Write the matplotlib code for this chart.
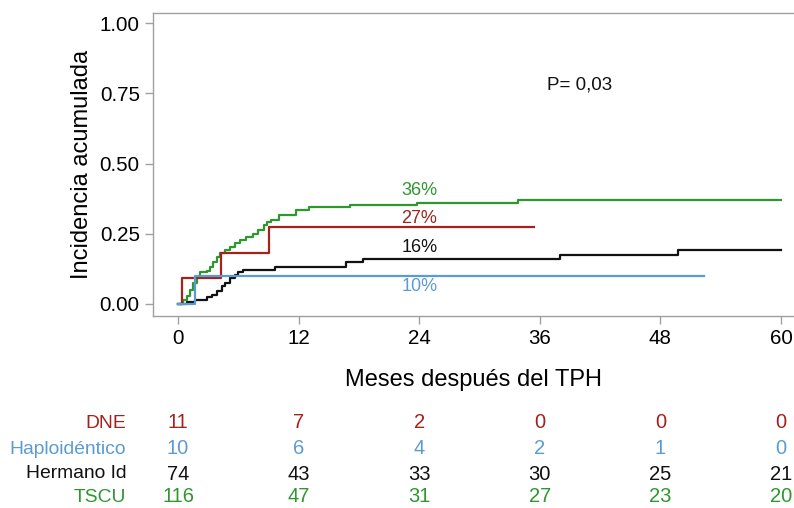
import matplotlib
matplotlib.use("Agg")
import matplotlib.pyplot as plt
import matplotlib.transforms as mtransforms

plt.rcParams['font.family'] = ['Liberation Sans', 'DejaVu Sans']

# cumulative incidence curves (months, value)
tscu_t = [0, 0.5, 0.85, 1.2, 1.5, 1.85, 2.2, 2.85, 3.2, 3.5, 3.85, 4.2, 4.7, 5.2, 5.7,
          6.2, 6.8, 7.5, 8.0, 8.5, 8.8, 9.2, 10.0, 11.7, 13.0, 17.1, 23.8, 33.8, 60]
tscu_v = [0, 0.013, 0.03, 0.05, 0.074, 0.095, 0.115, 0.118, 0.133, 0.15, 0.168, 0.18, 0.192,
          0.204, 0.216, 0.228, 0.24, 0.25, 0.263, 0.28, 0.293, 0.30, 0.317, 0.335, 0.344,
          0.352, 0.36, 0.37, 0.37]
dne_t = [0, 0.37, 4.25, 9.05, 35.4]
dne_v = [0, 0.091, 0.182, 0.273, 0.273]
haplo_t = [0, 1.7, 52.3]
haplo_v = [0, 0.10, 0.10]
herm_t = [0, 0.86, 1.7, 2.85, 3.35, 3.85, 4.35, 4.7, 5.2, 5.7, 6.0, 6.5, 9.65, 16.7, 18.4,
          38.0, 49.8, 60]
herm_v = [0, 0.008, 0.014, 0.024, 0.032, 0.047, 0.064, 0.076, 0.091, 0.103, 0.115, 0.121,
          0.133, 0.148, 0.16, 0.174, 0.192, 0.192]

# numbers at risk
risk_times = [0, 12, 24, 36, 48, 60]
groups = ["DNE", "Haploidéntico", "Hermano Id", "TSCU"]
risk_dne = [11, 7, 2, 0, 0, 0]
risk_haplo = [10, 6, 4, 2, 1, 0]
risk_herm = [74, 43, 33, 30, 25, 21]
risk_tscu = [116, 47, 31, 27, 23, 20]

red = "#a3221c"
blue = "#5b9bd5"
black = "#111111"
green = "#2e972e"
grey = "#a0a0a0"

fig = plt.figure(figsize=(7.94, 5.08), dpi=100)
ax = fig.add_axes([153 / 794, 1 - 316 / 508, 641 / 794, 303 / 508])

ax.plot(tscu_t, tscu_v, drawstyle="steps-post", color=green, lw=1.6)
ax.plot(dne_t, dne_v, drawstyle="steps-post", color=red, lw=1.6)
ax.plot(herm_t, herm_v, drawstyle="steps-post", color=black, lw=1.6)
ax.plot(haplo_t, haplo_v, drawstyle="steps-post", color=blue, lw=1.6)

ax.set_xlim(-2.5, 61.3)
ax.set_ylim(-0.043, 1.036)
ax.set_xticks(risk_times)
ax.set_yticks([0, 0.25, 0.5, 0.75, 1.0])
ax.set_yticklabels(["0.00", "0.25", "0.50", "0.75", "1.00"])
ax.tick_params(labelsize=14.8, color=grey, length=6, width=1, direction="out")
ax.spines["right"].set_visible(False)
for s in ["left", "top", "bottom"]:
    ax.spines[s].set_color(grey)
    ax.spines[s].set_linewidth(1)

ax.set_ylabel("Incidencia acumulada", fontsize=17, va="center")
ax.yaxis.set_label_coords(-0.111, 0.5)
ax.set_xlabel("Meses después del TPH", fontsize=17, va="center")
ax.xaxis.set_label_coords(0.5, -0.211)

ax.text(24, 0.405, "36%", color=green, fontsize=13, ha="center", va="center")
ax.text(24, 0.305, "27%", color=red, fontsize=13, ha="center", va="center")
ax.text(24, 0.20, "16%", color=black, fontsize=13, ha="center", va="center")
ax.text(24, 0.062, "10%", color=blue, fontsize=13, ha="center", va="center")
ax.text(40, 0.78, "P= 0,03", color=black, fontsize=13.5, ha="center", va="center")

trans = mtransforms.blended_transform_factory(ax.transData, fig.transFigure)
rows = [risk_dne, risk_haplo, risk_herm, risk_tscu]
colors = [red, blue, black, green]
row_y = [1 - 423 / 508, 1 - 449 / 508, 1 - 474 / 508, 1 - 497 / 508]
for name, vals, c, y in zip(groups, rows, colors, row_y):
    fig.text(126 / 794, y, name, color=c, fontsize=13.9, ha="right", va="center")
    for t, v in zip(risk_times, vals):
        ax.text(t, y, str(v), color=c, fontsize=14.5, ha="center", va="center",
                transform=trans, clip_on=False)

fig.savefig("out.png", dpi=100)
